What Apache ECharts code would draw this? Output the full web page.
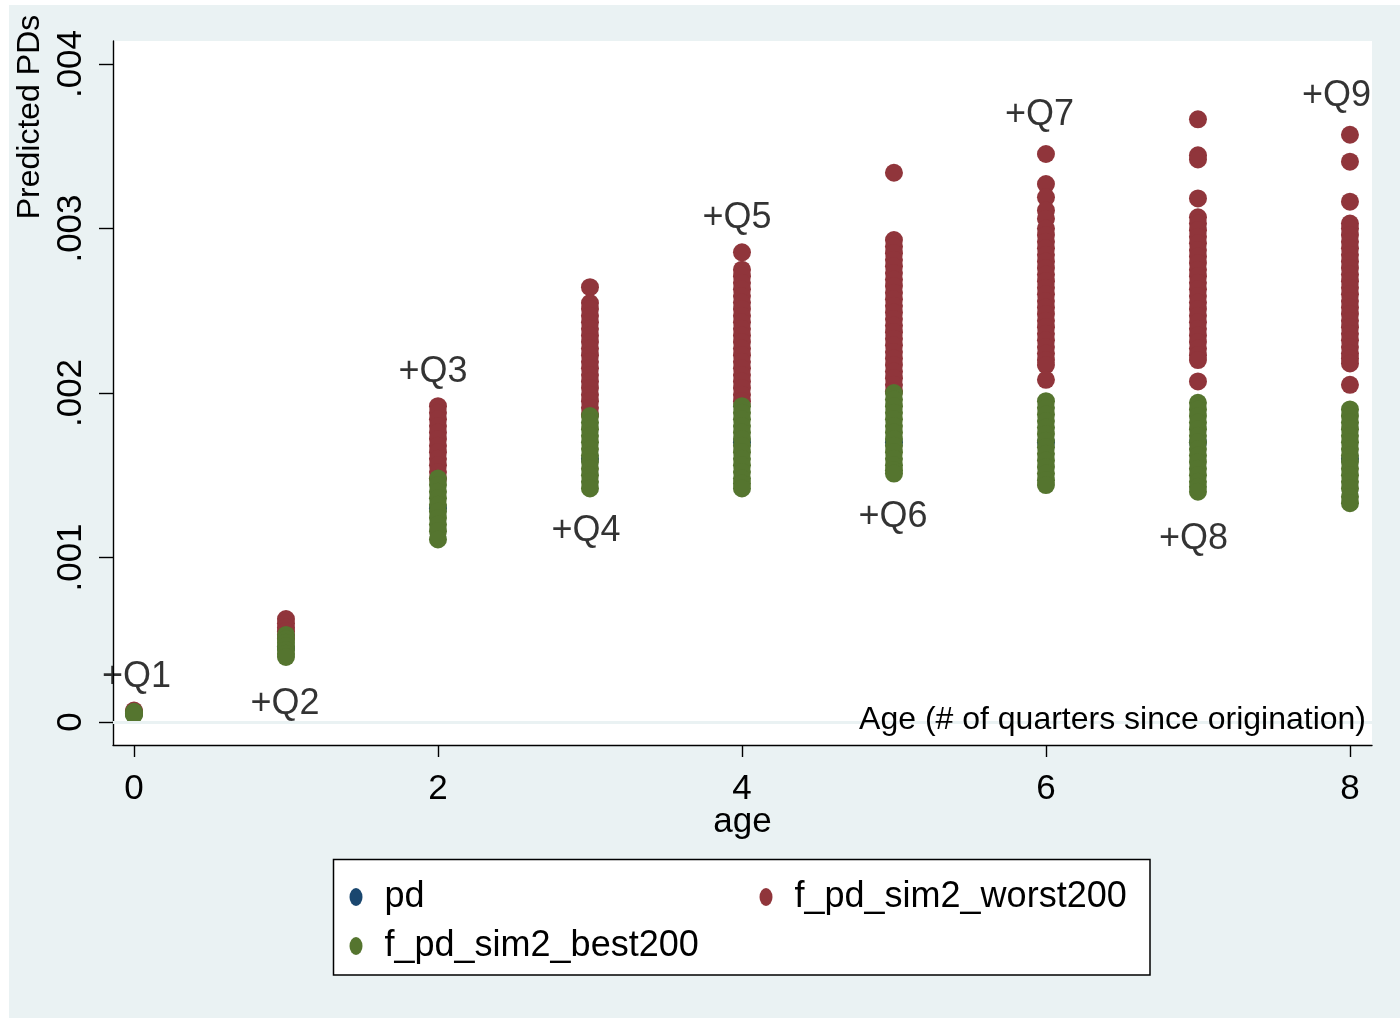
<!DOCTYPE html>
<html>
<head>
<meta charset="utf-8">
<script src="https://cdn.jsdelivr.net/npm/echarts@6/dist/echarts.min.js"></script>
<style>
html,body{margin:0;padding:0;background:#ffffff;}
#wrap{position:relative;width:1400px;height:1018px;}
#bg{position:absolute;left:9px;top:5px;width:1391px;height:1013px;background:#eaf2f3;}
#chart{position:absolute;left:0;top:0;width:1400px;height:1018px;}
</style>
</head>
<body>
<div id="wrap"><div id="bg"></div><div id="chart"></div></div>
<script>
// ---- data ----
const ages = [0, 1, 2, 3, 4, 5, 6, 7, 8];
const pdValues = [0.00005, 0.00045, 0.0013, 0.0016, 0.0017, 0.0017, 0.0017, 0.0017, 0.0016];
const worstAge0 = [0.000069, 0.00006];
const worstAge1 = [0.000626, 0.0006, 0.000575, 0.000552, 0.00053, 0.000508];
const worstAge2 = [0.00192, 0.00188, 0.00184, 0.0018, 0.00176, 0.00172, 0.00168, 0.00164, 0.0016, 0.00156, 0.00152, 0.00148];
const worstAge3 = [0.002643, 0.002547, 0.00251, 0.00247, 0.00243, 0.00239, 0.00235, 0.00231, 0.00227, 0.00223, 0.00219, 0.00215, 0.00211, 0.00207, 0.00203, 0.00199, 0.00195, 0.00191, 0.00187];
const worstAge4 = [0.002855, 0.00275, 0.00271, 0.00267, 0.00263, 0.00259, 0.00255, 0.00251, 0.00247, 0.00243, 0.00239, 0.00235, 0.00231, 0.00227, 0.00223, 0.00219, 0.00215, 0.00211, 0.00207, 0.00203, 0.00199, 0.00195];
const worstAge5 = [0.003339, 0.00293, 0.00289, 0.00285, 0.00281, 0.00277, 0.00273, 0.00269, 0.00265, 0.00261, 0.00257, 0.00253, 0.00249, 0.00245, 0.00241, 0.00237, 0.00233, 0.00229, 0.00225, 0.00221, 0.00217, 0.00213, 0.00209, 0.00205, 0.00201];
const worstAge6 = [0.003453, 0.00327, 0.00319, 0.00311, 0.00306, 0.003, 0.00296, 0.00292, 0.00288, 0.00284, 0.0028, 0.00276, 0.00272, 0.00268, 0.00264, 0.0026, 0.00256, 0.00252, 0.00248, 0.00244, 0.0024, 0.00236, 0.00232, 0.00228, 0.00224, 0.0022, 0.00217, 0.00208];
const worstAge7 = [0.003664, 0.003445, 0.00342, 0.003183, 0.003068, 0.00303, 0.00299, 0.00295, 0.00291, 0.00287, 0.00283, 0.00279, 0.00275, 0.00271, 0.00267, 0.00263, 0.00259, 0.00255, 0.00251, 0.00247, 0.00243, 0.00239, 0.00235, 0.00231, 0.00227, 0.00223, 0.0022, 0.00207];
const worstAge8 = [0.00357, 0.003406, 0.003163, 0.00303, 0.003, 0.00296, 0.00292, 0.00288, 0.00284, 0.0028, 0.00276, 0.00272, 0.00268, 0.00264, 0.0026, 0.00256, 0.00252, 0.00248, 0.00244, 0.0024, 0.00236, 0.00232, 0.00228, 0.00224, 0.00221, 0.00218, 0.00205];
const bestAge0 = [0.000062, 0.000055, 0.000048, 0.000043];
const bestAge1 = [0.000529, 0.000505, 0.000482, 0.00046, 0.000437, 0.000415, 0.000395];
const bestAge2 = [0.00148, 0.00144, 0.0014, 0.00136, 0.00132, 0.00128, 0.00124, 0.0012, 0.00116, 0.00111];
const bestAge3 = [0.00186, 0.00182, 0.00178, 0.00174, 0.0017, 0.00166, 0.00162, 0.00158, 0.00154, 0.0015, 0.00146, 0.00142];
const bestAge4 = [0.00192, 0.00188, 0.00184, 0.0018, 0.00176, 0.00172, 0.00168, 0.00164, 0.0016, 0.00156, 0.00152, 0.00148, 0.00145, 0.00142];
const bestAge5 = [0.002, 0.00196, 0.00192, 0.00188, 0.00184, 0.0018, 0.00176, 0.00172, 0.00168, 0.00164, 0.0016, 0.00156, 0.00153, 0.00151];
const bestAge6 = [0.00195, 0.00191, 0.00187, 0.00183, 0.00179, 0.00175, 0.00171, 0.00167, 0.00163, 0.00159, 0.00155, 0.00151, 0.00147, 0.00144];
const bestAge7 = [0.00194, 0.0019, 0.00186, 0.00182, 0.00178, 0.00174, 0.0017, 0.00166, 0.00162, 0.00158, 0.00154, 0.0015, 0.00146, 0.00143, 0.0014];
const bestAge8 = [0.0019, 0.00186, 0.00182, 0.00178, 0.00174, 0.0017, 0.00166, 0.00162, 0.00158, 0.00154, 0.0015, 0.00146, 0.00142, 0.00137, 0.00133];
const qLabels = ['+Q1', '+Q2', '+Q3', '+Q4', '+Q5', '+Q6', '+Q7', '+Q8', '+Q9'];
const qLabelX = [0.016, 0.993, 1.967, 2.974, 3.967, 4.993, 5.957, 6.97, 7.911];
const qLabelY = [0.000292, 0.000128, 0.002146, 0.001179, 0.003082, 0.001264, 0.003708, 0.001131, 0.003824];
const yTicks = [0, 0.001, 0.002, 0.003, 0.004];
const yTickLabels = ['0', '.001', '.002', '.003', '.004'];
const xTicks = [0, 2, 4, 6, 8];
const xTickLabels = ['0', '2', '4', '6', '8'];
const seriesNames = ['pd', 'f_pd_sim2_worst200', 'f_pd_sim2_best200'];

// ---- build ----
const worstByAge = [worstAge0, worstAge1, worstAge2, worstAge3, worstAge4, worstAge5, worstAge6, worstAge7, worstAge8];
const bestByAge = [bestAge0, bestAge1, bestAge2, bestAge3, bestAge4, bestAge5, bestAge6, bestAge7, bestAge8];
const pdData = ages.map((a, i) => [a, pdValues[i]]);
const worstData = [];
worstByAge.forEach((arr, i) => arr.forEach(v => worstData.push([ages[i], v])));
const bestData = [];
bestByAge.forEach((arr, i) => arr.forEach(v => bestData.push([ages[i], v])));
const labelData = qLabels.map((t, i) => [qLabelX[i], qLabelY[i], t]);

const FONT = 'Liberation Sans, Arial, Helvetica, sans-serif';
const ELLIPSE = 'path://M6.5,0A6.5,9,0,1,1,6.5,18A6.5,9,0,1,1,6.5,0Z';
const chart = echarts.init(document.getElementById('chart'), null, {renderer: 'canvas'});
const legendCommon = {
  orient: 'horizontal', padding: 0, itemWidth: 13, itemHeight: 18, icon: ELLIPSE,
  selectedMode: false, itemStyle: {opacity: 1},
  textStyle: {fontFamily: FONT, fontSize: 36, color: '#000', lineHeight: 36, padding: [0, 0, 0, 17]}
};
chart.setOption({
  animation: false,
  backgroundColor: 'transparent',
  textStyle: {fontFamily: FONT},
  grid: {left: 113, right: 28, top: 41, bottom: 273, show: true, backgroundColor: '#ffffff', borderWidth: 0},
  xAxis: {
    type: 'value', min: -0.138, max: 8.145,
    name: 'age', nameLocation: 'middle', nameGap: 60, nameMoveOverlap: false,
    nameTextStyle: {fontFamily: FONT, fontSize: 35, color: '#000'},
    axisLine: {show: true, onZero: false, lineStyle: {color: '#000', width: 1.4}},
    axisTick: {show: true, length: 12, customValues: xTicks, lineStyle: {color: '#000', width: 1.4}},
    axisLabel: {show: true, customValues: xTicks, margin: 27, fontFamily: FONT, fontSize: 35, color: '#000',
      formatter: v => xTickLabels[xTicks.indexOf(v)] !== undefined ? xTickLabels[xTicks.indexOf(v)] : String(v)},
    splitLine: {show: false}
  },
  yAxis: {
    type: 'value', min: -0.00014, max: 0.00414,
    axisLine: {show: true, onZero: false, lineStyle: {color: '#000', width: 1.4}},
    axisTick: {show: true, length: 14, customValues: yTicks, lineStyle: {color: '#000', width: 1.4}},
    axisLabel: {show: true, customValues: yTicks, rotate: 90, margin: 24, fontFamily: FONT, fontSize: 35, color: '#000',
      formatter: v => {
        const k = yTicks.findIndex(t => Math.abs(t - v) < 1e-9);
        return k >= 0 ? yTickLabels[k] : String(v);
      }},
    splitLine: {show: false}
  },
  legend: [
    Object.assign({}, legendCommon, {data: [seriesNames[0]], left: 349.5, top: 879}),
    Object.assign({}, legendCommon, {data: [seriesNames[1]], left: 759.5, top: 879}),
    Object.assign({}, legendCommon, {data: [seriesNames[2]], left: 349.5, top: 928})
  ],
  graphic: [
    {type: 'rect', z: 0, shape: {x: 333.5, y: 859.5, width: 816.5, height: 115.5},
      style: {fill: '#ffffff', stroke: '#000000', lineWidth: 1.5}},
    {type: 'text', x: 30, y: 117, rotation: Math.PI / 2, z: 10,
      style: {text: 'Predicted PDs', fontFamily: FONT, fontSize: 32, fill: '#000',
        textAlign: 'center', align: 'center', textVerticalAlign: 'middle', verticalAlign: 'middle'}},
    {type: 'text', x: 1366, y: 720, z: 10,
      style: {text: 'Age (# of quarters since origination)', fontFamily: FONT, fontSize: 32, fill: '#000',
        textAlign: 'right', align: 'right', textVerticalAlign: 'middle', verticalAlign: 'middle'}}
  ],
  series: [
    {
      name: seriesNames[0], type: 'scatter', z: 2, symbol: 'circle', symbolSize: 18,
      itemStyle: {color: '#1a476f', opacity: 1}, data: pdData,
      markLine: {
        silent: true, symbol: 'none', label: {show: false}, animation: false,
        lineStyle: {color: '#eaf2f3', width: 3, type: 'solid'},
        data: yTicks.map(v => ({yAxis: v}))
      }
    },
    {name: seriesNames[1], type: 'scatter', z: 3, symbol: 'circle', symbolSize: 18,
      itemStyle: {color: '#90353b', opacity: 1}, data: worstData},
    {name: seriesNames[2], type: 'scatter', z: 4, symbol: 'circle', symbolSize: 18,
      itemStyle: {color: '#55752f', opacity: 1}, data: bestData},
    {name: 'qlabels', type: 'scatter', z: 5, symbolSize: 1, itemStyle: {color: 'rgba(0,0,0,0)'},
      silent: true, data: labelData,
      label: {show: true, position: 'inside', offset: [0, 3], formatter: p => p.data[2], fontFamily: FONT, fontSize: 36, color: '#000'}}
  ]
});
</script>
</body>
</html>
